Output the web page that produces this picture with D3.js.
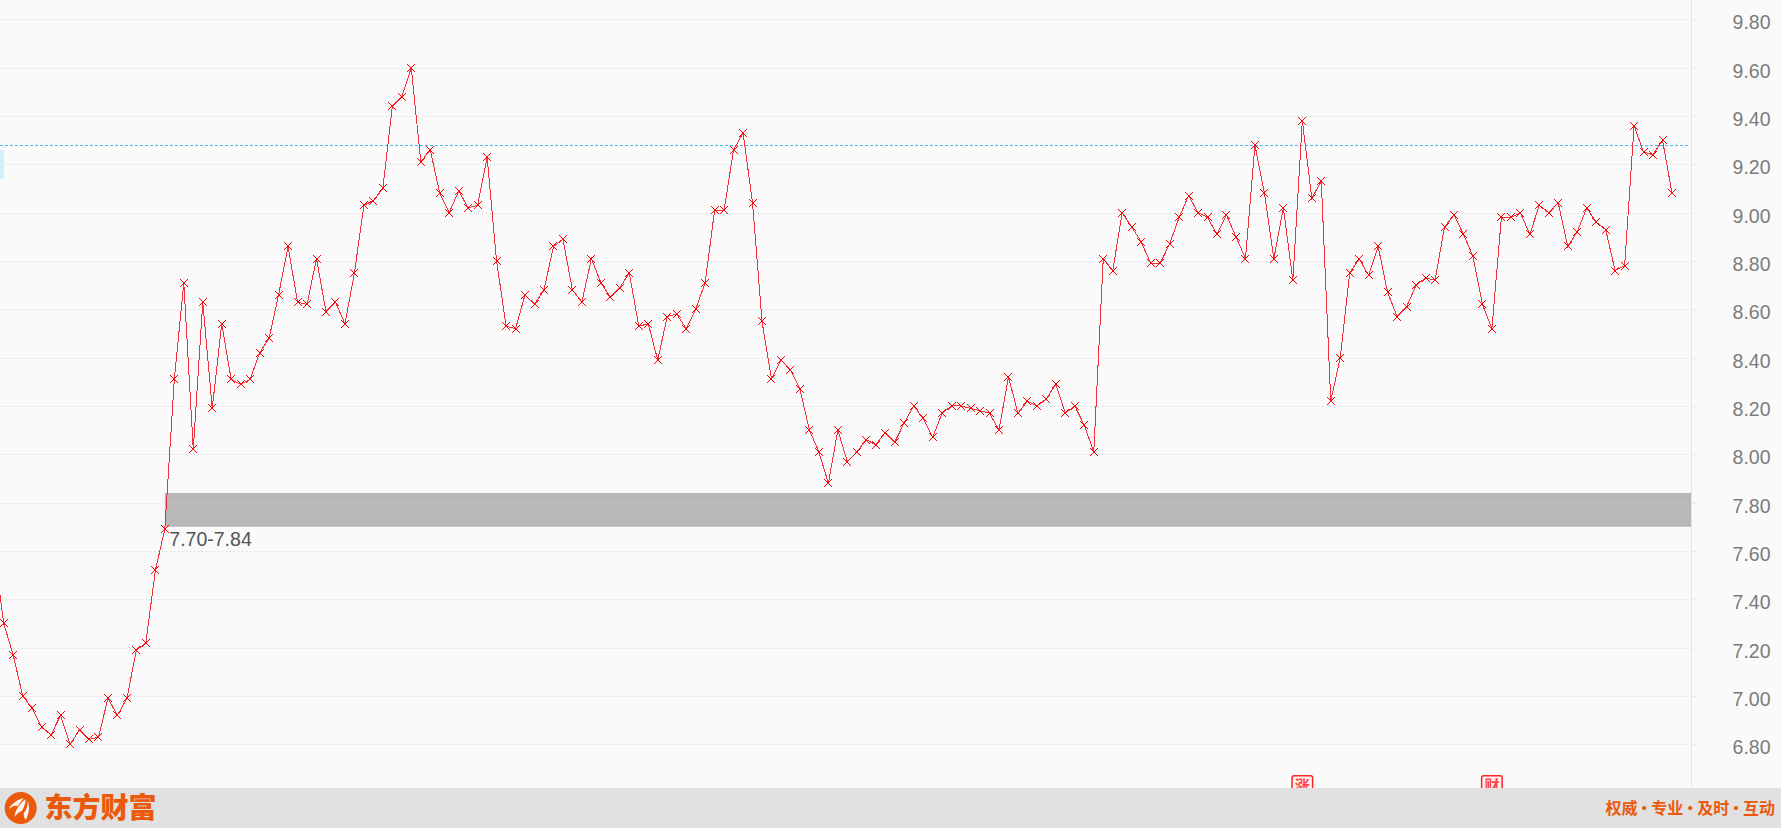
<!DOCTYPE html>
<html>
<head>
<meta charset="utf-8">
<script src="https://cdn.jsdelivr.net/npm/d3@7/dist/d3.min.js"></script>
<style>
html,body{margin:0;padding:0;background:#fafafa;overflow:hidden}
svg{display:block}
</style>
</head>
<body>
<svg id="c" width="1781" height="828"></svg>
<script>
const priceTicks = [6.8,7.0,7.2,7.4,7.6,7.8,8.0,8.2,8.4,8.6,8.8,9.0,9.2,9.4,9.6,9.8];
const closes = [7.60,
7.30,7.17,7.00,6.95,6.87,6.84,6.92,6.80,6.86,6.82,6.83,6.99,6.92,6.99,7.19,7.22,7.52,7.69,
8.31,8.71,8.02,8.63,8.19,8.54,8.31,8.29,8.31,8.42,8.48,8.66,8.86,8.63,8.62,8.81,8.59,8.63,8.54,8.75,
9.03,9.05,9.10,9.44,9.48,9.60,9.21,9.26,9.08,9.00,9.09,9.02,9.03,9.23,8.80,8.53,8.52,8.66,8.62,8.68,8.86,8.89,
8.68,8.63,8.81,8.71,8.65,8.69,8.75,8.53,8.54,8.39,8.57,8.58,8.52,8.60,8.71,9.01,9.01,9.26,9.33,9.04,8.55,8.31,
8.39,8.35,8.27,8.10,8.01,7.88,8.10,7.97,8.01,8.06,8.04,8.09,8.05,8.13,8.20,8.15,8.07,8.17,8.20,8.20,8.19,8.18,8.17,8.10,
8.32,8.17,8.22,8.20,8.23,8.29,8.17,8.20,8.12,8.01,8.81,8.76,9.00,8.94,8.88,8.79,8.79,
8.87,8.98,9.07,9.00,8.98,8.91,8.99,8.90,8.81,9.28,9.08,8.81,9.02,8.72,9.38,9.06,9.13,8.22,8.40,8.75,8.81,8.74,8.86,8.67,8.57,8.61,8.70,8.73,8.72,8.94,8.99,8.91,8.82,8.62,8.52,8.98,8.98,9.00,8.91,9.03,9.00,
9.04,8.86,8.92,9.02,8.96,8.93,8.76,8.78,9.36,9.25,9.24,9.30,9.08];
const zoneLow = 7.70, zoneHigh = 7.84, zoneStartIndex = 18;
const zoneLabel = "7.70-7.84";
const refPrice = 9.28;
const sideBand = [9.26, 9.14];
const newsMarks = [{label:"涨", index:138}, {label:"财", index:158}];
const brandName = "东方财富";
const slogan = "权威 · 专业 · 及时 · 互动";

const svg = d3.select("#c");
const W = 1781, H = 828, footerY = 788, axisX = 1691.5;
const y = d3.scaleLinear().domain([6.8,9.8]).range([744.3,19.3]);
const x = d3.scalePoint().domain(d3.range(closes.length)).range([-5.78,1672]);

svg.append("rect").attr("width",W).attr("height",H).attr("fill","#fafafa");

// support zone
svg.append("rect").attr("x",x(zoneStartIndex)).attr("y",y(zoneHigh))
  .attr("width",axisX-x(zoneStartIndex)).attr("height",y(zoneLow)-y(zoneHigh)).attr("fill","#b8b8b8");

// grid
svg.append("g").selectAll("line").data(priceTicks).join("line")
  .attr("x1",2).attr("x2",1687).attr("y1",d=>Math.round(y(d))+.5).attr("y2",d=>Math.round(y(d))+.5)
  .attr("stroke","#cfcfcf").attr("stroke-dasharray","1 3");

// side band + reference line
svg.append("rect").attr("x",0).attr("width",4).attr("y",y(sideBand[0])).attr("height",y(sideBand[1])-y(sideBand[0])).attr("fill","#d3effd");
svg.append("line").attr("x1",0).attr("x2",1688).attr("y1",Math.round(y(refPrice))+.5).attr("y2",Math.round(y(refPrice))+.5)
  .attr("stroke","#4bbcf0").attr("stroke-dasharray","3 2");

// axis
const axis = d3.axisRight(y).tickValues(priceTicks).tickFormat(d3.format(".2f")).tickSize(4);
const ga = svg.append("g").attr("transform",`translate(${axisX},0)`).call(axis);
ga.select(".domain").remove();
ga.selectAll(".tick line").attr("stroke","#e5e5e5");
ga.selectAll(".tick text").attr("x",1770.5-axisX).attr("y",9.5).attr("dy",0).attr("text-anchor","end")
  .attr("font-family","'Liberation Sans',Arial,sans-serif").attr("font-size",19.5).attr("fill","#7c7c7c");
svg.append("line").attr("x1",axisX).attr("x2",axisX).attr("y1",0).attr("y2",footerY).attr("stroke","#e5e5e5");

// line + markers
const line = d3.line().x((d,i)=>x(i)).y(d=>y(d));
svg.append("path").datum(closes).attr("d",line).attr("fill","none").attr("stroke","#f0303c").attr("stroke-width",1).attr("shape-rendering","crispEdges");
const sym = d3.symbol().type(d3.symbolTimes).size(44);
svg.append("g").selectAll("path").data(closes).join("path")
  .attr("d",sym()).attr("transform",(d,i)=>`translate(${Math.round(x(i))},${Math.round(y(d))})`)
  .attr("fill","none").attr("stroke","#ff0000").attr("stroke-width",1).attr("shape-rendering","crispEdges");

// zone label
svg.append("text").attr("x",x(zoneStartIndex)+4.5).attr("y",y(zoneLow)+19).text(zoneLabel)
  .attr("font-family","'Liberation Sans',Arial,sans-serif").attr("font-size",19.5).attr("fill","#555");

// news marks
const nm = svg.append("g").selectAll("g").data(newsMarks).join("g")
  .attr("transform",d=>`translate(${x(d.index)},775)`);
nm.append("rect").attr("x",-10.25).attr("y",.75).attr("width",20.5).attr("height",20).attr("rx",2)
  .attr("fill","#fff5f5").attr("stroke","#f22").attr("stroke-width",1.5);
nm.append("text").attr("y",15.5).attr("text-anchor","middle").text(d=>d.label)
  .attr("font-family","'Noto Sans CJK SC'").attr("font-size",15).attr("font-weight",700).attr("fill","#f44");

// footer
svg.append("rect").attr("y",footerY).attr("width",W).attr("height",H-footerY).attr("fill","#e1e1e1");
const orange = "#eb5a0c";
const logo = svg.append("g").attr("transform","translate(20.7,808)");
logo.append("circle").attr("r",16).attr("fill",orange);
logo.append("path").attr("fill","#fbf3ec").attr("d","M-11,-1 C-7,-6 -2,-9 3,-10 C1,-7 -2,-4 -3,-2 C-6,-3 -9,-2 -11,1Z M-6,9 C-6,3 -1,-5 5,-9 C5,-5 3,0 1,3 C-2,4 -4,6 -6,9Z M5,12 C3,9 3,7 3,5 C6,2 7,-2 7,-7 C9,-3 9,5 5,12Z");
svg.append("text").attr("x",44.5).attr("y",818).text(brandName)
  .attr("font-family","'Noto Sans CJK SC'").attr("font-size",28).attr("font-weight",900).attr("fill",orange);
svg.append("text").attr("x",1775).attr("y",814).attr("text-anchor","end").text(slogan)
  .attr("font-family","'Noto Sans CJK SC'").attr("font-size",16).attr("font-weight",700).attr("fill",orange)
  .attr("word-spacing","-4.7px");
</script>
</body>
</html>
